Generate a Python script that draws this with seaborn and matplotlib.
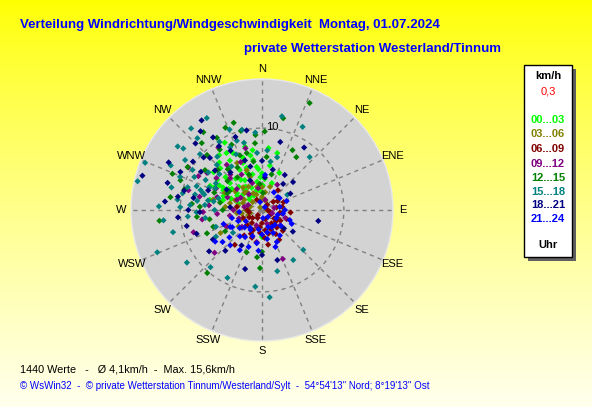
import numpy as np
import pandas as pd
import matplotlib
matplotlib.use('Agg')
import matplotlib.pyplot as plt
import seaborn as sns

# wind direction (deg, clockwise from N) and speed (km/h) per time slot
# (outer points first, then estimates for the dense core)
dir_00_03 = [351, 6, 15, 327, 315, 304, 281, 331, 338, 353, 357, 310, 304, 320, 317, 180, 284, 297, 2, 350, 333, 331,
             322, 300, 340, 325, 290, 10, 345,
             300, 305, 310, 315, 320, 325, 330, 335, 340, 345, 350, 355, 0, 5, 312, 322, 300, 290, 285, 345, 330, 310,
             20, 25, 295, 318, 328, 338, 348, 308, 302, 296, 352]
spd_00_03 = [7.4, 7.6, 7.2, 7.2, 7.2, 6.6, 6.5, 5.6, 4.9, 5.3, 4.0, 5.1, 3.7, 3.2, 2.2, 3.3, 4.9, 5.3, 3.0, 6.2, 7.8, 9.4,
             8.5, 6.0, 6.8, 4.5, 4.0, 5.5, 8.0,
             3.5, 4.5, 3.0, 4.0, 5.0, 3.5, 4.2, 3.0, 5.5, 4.5, 3.5, 5.0, 4.5, 3.8, 6.0, 6.5, 5.5, 5.0, 3.0, 2.5, 2.0, 2.0,
             3.5, 5.0, 7.0, 7.8, 8.2, 6.2, 6.8, 7.5, 4.8, 6.4, 2.4]
dir_03_06 = [0, 332, 290, 348, 282, 263, 256, 340, 320, 244, 241, 326, 90, 19, 332, 339, 282, 223, 246,
             270, 280, 290, 300, 310, 320, 330, 340, 350, 0, 10, 260, 250, 275, 305, 315, 285, 295, 235, 20]
spd_03_06 = [1.6, 2.3, 2.5, 2.9, 4.0, 3.1, 1.5, 4.3, 3.6, 4.7, 5.8, 0.4, 0.6, 3.0, 6.5, 5.2, 6.1, 2.5, 2.9,
             2.0, 3.0, 3.5, 2.5, 1.5, 2.8, 3.3, 2.0, 1.2, 2.8, 2.2, 2.5, 1.8, 4.5, 4.0, 3.0, 1.5, 5.0, 3.5, 1.2]
dir_06_09 = [247, 218, 219, 45, 104, 118, 39, 187, 204, 171, 270, 277, 81, 54, 333, 218, 99, 180, 90,
             140, 150, 200, 125, 160, 230,
             100, 110, 120, 130, 135, 145, 155, 165, 175, 185, 195, 205, 215, 225, 240, 80, 70, 60, 95, 115, 190, 170,
             260, 210, 150]
spd_06_09 = [2.5, 2.0, 0.8, 0.9, 1.0, 2.1, 3.1, 2.1, 2.7, 2.5, 1.8, 3.1, 2.5, 1.7, 1.4, 5.4, 2.2, 1.6, 0.7,
             2.8, 3.4, 3.6, 1.8, 1.2, 1.5,
             2.5, 3.2, 2.6, 2.2, 3.6, 2.0, 2.6, 3.0, 3.4, 2.8, 2.2, 3.2, 3.8, 2.6, 1.8, 1.8, 2.8, 2.2, 3.5, 1.2, 4.0, 4.3,
             1.6, 1.1, 4.2]
dir_09_12 = [252, 228, 286, 300, 325, 345, 31, 157, 109, 130, 189, 261, 318, 304, 292, 290, 285, 107, 17, 312,
             250, 260, 270, 280, 290, 300, 310, 320, 330, 340, 265, 275, 295, 230, 200, 160, 80, 350, 245, 315,
             305, 322, 282, 268, 336, 298]
spd_09_12 = [8.8, 7.8, 5.7, 10.4, 9.3, 7.8, 3.6, 6.5, 3.0, 2.9, 4.0, 7.4, 5.8, 8.1, 3.3, 1.8, 9.3, 1.3, 1.3, 7.3,
             3.0, 4.0, 3.5, 2.2, 4.5, 3.0, 4.0, 2.5, 5.0, 3.5, 5.5, 6.5, 6.2, 3.2, 2.0, 1.8, 1.5, 2.7, 4.8, 5.5,
             6.8, 7.0, 7.8, 7.2, 6.4, 8.8]
dir_12_15 = [24, 13, 27, 33, 342, 336, 323, 355, 354, 264, 278, 290, 221, 180, 182, 186, 3, 264, 312, 338, 345, 273,
             247, 251, 296, 323,
             300, 310, 320, 330, 340, 350, 290, 280, 270, 355, 5, 15, 260, 240, 200,
             305, 315, 325, 335, 345, 300, 285, 275, 318, 328, 2, 292]
spd_12_15 = [14.3, 11.5, 8.2, 7.7, 11.2, 11.0, 11.9, 9.2, 8.2, 12.6, 11.3, 10.6, 10.2, 5.1, 7.1, 5.8, 2.1, 8.0, 7.3,
             7.2, 7.2, 7.6, 7.3, 6.3, 4.7, 5.0,
             4.6, 5.5, 6.5, 6.0, 4.6, 6.0, 6.2, 5.2, 4.8, 3.2, 6.5, 4.5, 6.5, 5.2, 5.5,
             8.5, 9.5, 9.0, 8.8, 10.0, 10.5, 9.8, 8.6, 11.0, 10.4, 9.6, 11.8]
dir_15_18 = [12, 26, 42, 329, 319, 292, 283, 296, 272, 264, 248, 235, 222, 207, 185, 175, 166, 148, 134, 59, 16, 307,
             288, 283, 280, 295, 274, 232, 333, 346, 355, 5, 282, 265, 256, 286,
             275, 278, 285, 290, 293, 298, 285, 280, 300, 305, 310, 315, 320, 270, 262, 268, 287, 300, 325, 335, 345,
             355, 10, 250, 240,
             303, 312, 318, 328, 338, 292, 277, 284, 296, 308, 340, 272]
spd_15_18 = [11.7, 11.3, 8.7, 13.1, 13.2, 15.4, 15.6, 12.4, 12.6, 12.1, 13.8, 11.2, 9.4, 9.3, 9.4, 10.7, 7.7, 7.2,
             7.0, 3.6, 6.7, 12.9, 7.9, 8.4, 6.7, 6.3, 8.8, 4.5, 8.6, 10.1, 9.5, 7.3, 9.9, 9.1, 11.2, 7.5,
             7.0, 8.0, 7.3, 8.5, 7.0, 7.8, 5.5, 6.0, 6.5, 8.0, 6.8, 7.8, 8.5, 5.8, 7.0, 8.0, 9.5, 9.8, 6.5, 7.5, 8.5,
             7.0, 6.0, 6.0, 6.5,
             11.2, 10.2, 11.8, 9.8, 10.6, 10.8, 10.4, 11.4, 9.2, 12.2, 9.0, 10.0]
dir_18_21 = [326, 349, 15, 34, 48, 33, 39, 101, 125, 163, 196, 232, 222, 239, 286, 286, 275, 279, 265, 326, 326, 340,
             315, 305, 275, 341, 5, 15, 338,
             300, 290, 310, 320, 280, 270, 250, 210, 180, 130, 60, 345, 0, 295, 315,
             302, 312, 332, 284, 268, 258, 322, 297]
spd_18_21 = [13.2, 9.9, 8.6, 9.2, 5.1, 5.1, 4.1, 7.0, 4.6, 6.4, 7.5, 8.2, 6.7, 7.0, 15.2, 12.0, 11.9, 10.4, 10.3,
             10.7, 9.4, 9.5, 9.0, 10.3, 3.9, 6.4, 4.0, 5.1, 3.9,
             5.0, 7.0, 7.5, 6.0, 8.5, 9.0, 8.5, 5.0, 5.5, 3.5, 4.0, 5.5, 6.0, 11.0, 11.5,
             8.8, 9.6, 8.2, 9.8, 7.6, 9.4, 12.2, 12.8]
dir_21_24 = [346, 45, 139, 139, 51, 214, 231, 240, 212, 209, 189, 167, 154, 155, 236, 231, 222, 56, 242, 107, 173, 5,
             34, 90, 110,
             120, 130, 145, 160, 170, 180, 190, 200, 210, 220, 225, 235, 245, 250, 255, 200, 185, 160, 150, 100, 80,
             70, 115, 265, 230]
spd_21_24 = [1.0, 0.5, 1.1, 2.4, 2.5, 2.6, 3.5, 4.2, 3.9, 5.6, 4.1, 2.8, 3.1, 4.3, 6.9, 6.2, 5.8, 2.6, 4.4, 2.0, 1.0,
             4.3, 2.6, 2.8, 3.6,
             2.0, 3.0, 3.8, 2.2, 3.6, 3.0, 2.4, 3.4, 2.8, 4.2, 3.0, 2.4, 3.2, 5.0, 3.8, 4.8, 5.0, 4.8, 2.4, 2.6, 2.2,
             3.2, 4.0, 2.8, 5.2]

periods = ['00...03', '03...06', '06...09', '09...12', '12...15', '15...18', '18...21', '21...24']
period_colors = ['#00FF00', '#808000', '#800000', '#800080', '#008000', '#008080', '#000080', '#0000FF']
compass = ['N', 'NNE', 'NE', 'ENE', 'E', 'ESE', 'SE', 'SSE', 'S', 'SSW', 'SW', 'WSW', 'W', 'WNW', 'NW', 'NNW']

all_dirs = [dir_00_03, dir_03_06, dir_06_09, dir_09_12, dir_12_15, dir_15_18, dir_18_21, dir_21_24]
all_spds = [spd_00_03, spd_03_06, spd_06_09, spd_09_12, spd_12_15, spd_15_18, spd_18_21, spd_21_24]

rows = []
for name, dirs, spds in zip(periods, all_dirs, all_spds):
    for d, s in zip(dirs, spds):
        rows.append({'theta': np.deg2rad(d), 'speed': s, 'period': name})
df = pd.DataFrame(rows)

sns.set_theme(style='white')
plt.rcParams['font.family'] = ['Liberation Sans', 'DejaVu Sans']

fig = plt.figure(figsize=(5.92, 4.07), dpi=100)

# yellow gradient background
bg = fig.add_axes([0, 0, 1, 1], zorder=-10)
grad = np.linspace(0, 1, 256) ** 0.8
img = np.zeros((256, 1, 3))
img[:, 0, 0] = 1.0
img[:, 0, 1] = 1.0
img[:, 0, 2] = 0.93 * grad
bg.imshow(img, aspect='auto', extent=[0, 1, 0, 1])
bg.axis('off')

ax = fig.add_axes([0.2213, 0.1622, 0.4426, 0.6437], projection='polar')
ax.set_theta_zero_location('N')
ax.set_theta_direction(-1)
ax.set_facecolor('#D3D3D3')
ax.set_ylim(0, 16)
ax.set_thetagrids(np.arange(0, 360, 22.5), labels=[''] * 16)
ax.set_rgrids([10], labels=[''])
ax.grid(True, color='#808080', linestyle=(0, (3, 3)), linewidth=1)
ax.spines['polar'].set_color('#E8E8E8')
ax.spines['polar'].set_linewidth(1)

sns.scatterplot(data=df, x='theta', y='speed', hue='period', palette=period_colors,
                hue_order=periods, marker='D', s=10, linewidth=0, legend=False, ax=ax, zorder=3)
ax.set_xlabel('')
ax.set_ylabel('')

for i, lab in enumerate(compass):
    ax.text(np.deg2rad(i * 22.5), 17.2, lab, ha='center', va='center', fontsize=8, color='black', clip_on=False)
ax.text(np.deg2rad(7), 10.2, '10', ha='center', va='center', fontsize=8, color='black', zorder=4)

# titles
fig.text(20 / 592, 1 - 25 / 407, 'Verteilung Windrichtung/Windgeschwindigkeit  Montag, 01.07.2024',
         color='#0000FF', fontsize=9.5, fontweight='bold', ha='left', va='center')
fig.text(501 / 592, 1 - 49 / 407, 'private Wetterstation Westerland/Tinnum',
         color='#0000FF', fontsize=9.5, fontweight='bold', ha='right', va='center')

# footer
fig.text(20 / 592, 1 - 369 / 407, '1440 Werte   -   Ø 4,1km/h  -  Max. 15,6km/h',
         color='black', fontsize=7.8, ha='left', va='center')
fig.text(20 / 592, 1 - 386 / 407,
         '\u00a9 WsWin32  -  \u00a9 private Wetterstation Tinnum/Westerland/Sylt  -  54\u00b054\'13" Nord; 8\u00b019\'13" Ost',
         color='#0000FF', fontsize=7.0, ha='left', va='center')

# legend box with shadow
W, H = 592.0, 407.0
bx0, by0, bx1, by1 = 524, 65, 572, 257
fig.patches.append(plt.Rectangle(((bx0 + 4) / W, 1 - (by1 + 4) / H), (bx1 - bx0) / W, (by1 - by0) / H,
                                 transform=fig.transFigure, facecolor='#606060', edgecolor='none', zorder=1))
fig.patches.append(plt.Rectangle((bx0 / W, 1 - by1 / H), (bx1 - bx0) / W, (by1 - by0) / H,
                                 transform=fig.transFigure, facecolor='white', edgecolor='black',
                                 linewidth=1, zorder=2))
cx = 548 / W
fig.text(cx, 1 - 76 / H, 'km/h', ha='center', va='center', fontsize=8, fontweight='bold', color='black', zorder=5)
fig.text(cx, 1 - 92 / H, '0,3', ha='center', va='center', fontsize=8, color='#FF0000', zorder=5)
legend_y = [120, 134, 149, 164, 178, 192, 205, 219]
for name, col, yy in zip(periods, period_colors, legend_y):
    fig.text(cx, 1 - yy / H, name, ha='center', va='center', fontsize=8, fontweight='bold', color=col, zorder=5)
fig.text(cx, 1 - 245 / H, 'Uhr', ha='center', va='center', fontsize=8, fontweight='bold', color='black', zorder=5)

fig.savefig('out.png', dpi=100)
